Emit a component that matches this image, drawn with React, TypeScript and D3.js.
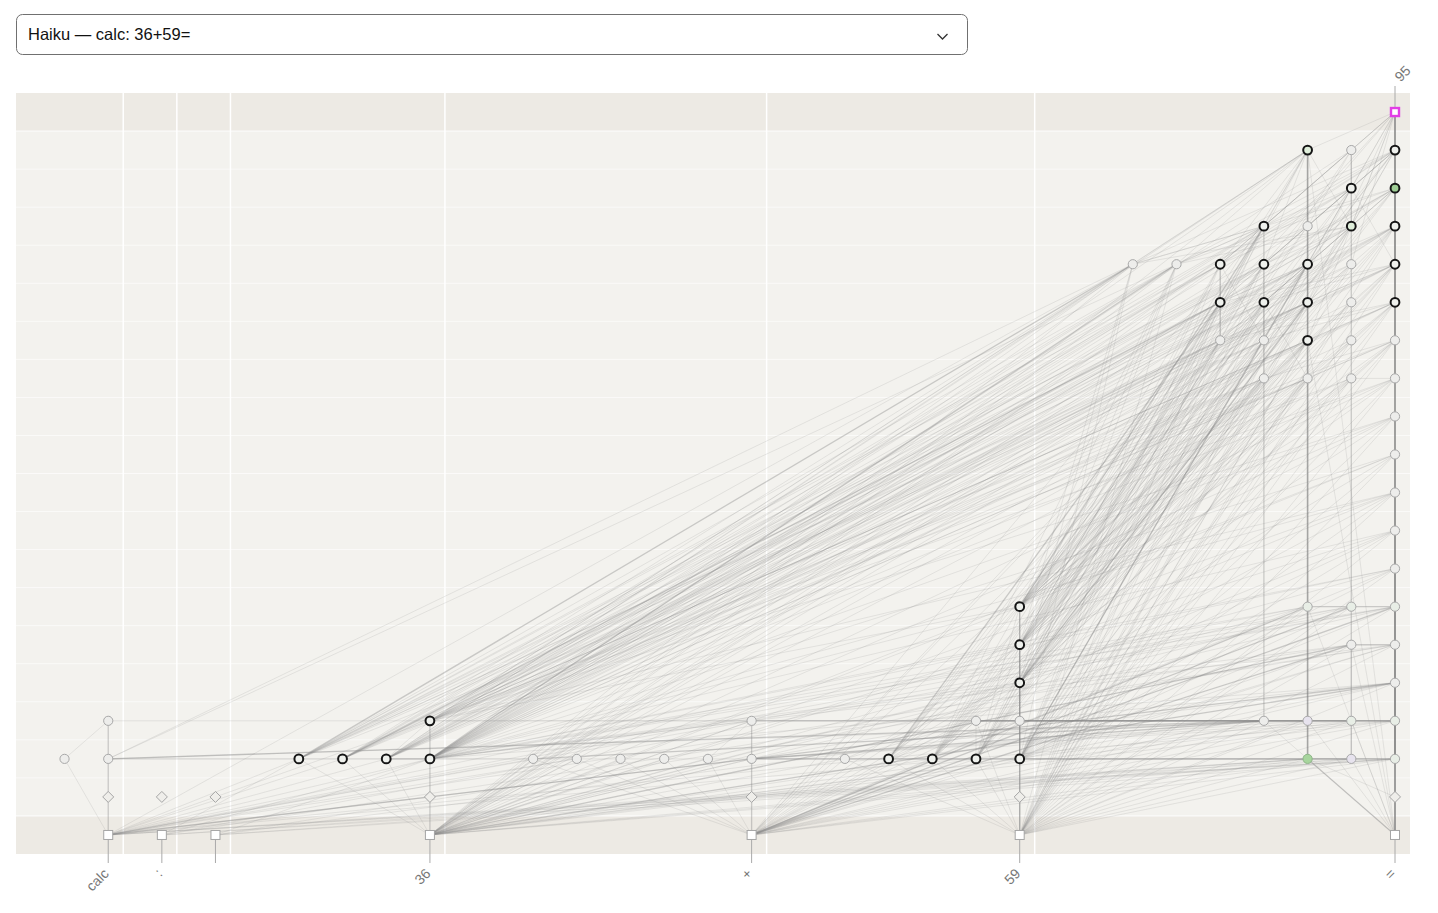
import { useRef, useEffect } from 'react'
import * as d3 from 'd3'

// prompt tokens along the bottom, predicted token on top
const tokens = ['calc', ':', ' ', '36', '+', '59', '=']
const outputToken = '95'
const promptLabel = 'Haiku \u2014 calc: 36+59='
const layerCount = 20

// [id, token index, offset inside column, layer, style]
type NodeRow = [string, number, number, number, string]
const nodes: NodeRow[] = [
  ['E0', 0, 0, 0, 'emb'], ['D0', 0, 0, 1, 'err'], ['A1', 0, 0, 2, 'light'], ['A2', 0, 1, 2, 'light'], ['A3', 0, 0, 3, 'light'],
  ['E1', 1, 0, 0, 'emb'], ['D1', 1, 0, 1, 'err'],
  ['E2', 2, 0, 0, 'emb'], ['D2', 2, 0, 1, 'err'],
  ['E3', 3, 0, 0, 'emb'], ['D3', 3, 0, 1, 'err'], ['B1', 3, 0, 2, 'bold'], ['B2', 3, 1, 2, 'bold'], ['B3', 3, 2, 2, 'bold'], ['B4', 3, 3, 2, 'bold'], ['B5', 3, 0, 3, 'bold'],
  ['E4', 4, 0, 0, 'emb'], ['D4', 4, 0, 1, 'err'], ['P1', 4, 0, 2, 'light'], ['P2', 4, 1, 2, 'light'], ['P3', 4, 2, 2, 'light'], ['P4', 4, 3, 2, 'light'], ['P5', 4, 4, 2, 'light'], ['P6', 4, 5, 2, 'light'], ['P7', 4, 0, 3, 'light'],
  ['E5', 5, 0, 0, 'emb'], ['D5', 5, 0, 1, 'err'], ['F1', 5, 0, 2, 'bold'], ['F2', 5, 1, 2, 'bold'], ['F3', 5, 2, 2, 'bold'], ['F4', 5, 3, 2, 'bold'], ['F5', 5, 4, 2, 'light'],
  ['F6', 5, 0, 3, 'light'], ['F7', 5, 1, 3, 'light'], ['F8', 5, 0, 4, 'bold'], ['F9', 5, 0, 5, 'bold'], ['F10', 5, 0, 6, 'bold'],
  ['E6', 6, 0, 0, 'emb'], ['D6', 6, 0, 1, 'err'],
  ['Q2', 6, 0, 2, 'tint'], ['Q3', 6, 0, 3, 'tint'], ['Q4', 6, 0, 4, 'light'], ['Q5', 6, 0, 5, 'light'], ['Q6', 6, 0, 6, 'tint'], ['Q7', 6, 0, 7, 'light'],
  ['Q8', 6, 0, 8, 'light'], ['Q9', 6, 0, 9, 'light'], ['Q10', 6, 0, 10, 'light'], ['Q11', 6, 0, 11, 'light'], ['Q12', 6, 0, 12, 'light'], ['Q13', 6, 0, 13, 'light'],
  ['Q14', 6, 0, 14, 'bold'], ['Q15', 6, 0, 15, 'bold'], ['Q16', 6, 0, 16, 'bold'], ['Q17', 6, 0, 17, 'boldGreen'], ['Q18', 6, 0, 18, 'bold'], ['L', 6, 0, 19, 'logit'],
  ['R2', 6, 1, 2, 'lav'], ['R3', 6, 1, 3, 'tint'], ['R5', 6, 1, 5, 'light'], ['R6', 6, 1, 6, 'tint'], ['R12', 6, 1, 12, 'light'], ['R13', 6, 1, 13, 'light'],
  ['R14', 6, 1, 14, 'light'], ['R15', 6, 1, 15, 'light'], ['R16', 6, 1, 16, 'boldTint'], ['R17', 6, 1, 17, 'bold'], ['R18', 6, 1, 18, 'light'],
  ['S2', 6, 2, 2, 'green'], ['S3', 6, 2, 3, 'lav'], ['S6', 6, 2, 6, 'tint'], ['S12', 6, 2, 12, 'light'], ['S13', 6, 2, 13, 'bold'],
  ['S14', 6, 2, 14, 'bold'], ['S15', 6, 2, 15, 'bold'], ['S16', 6, 2, 16, 'light'], ['S18', 6, 2, 18, 'boldTint'],
  ['T3', 6, 3, 3, 'light'], ['T12', 6, 3, 12, 'light'], ['T13', 6, 3, 13, 'light'], ['T14', 6, 3, 14, 'bold'], ['T15', 6, 3, 15, 'bold'], ['T16', 6, 3, 16, 'bold'],
  ['U13', 6, 4, 13, 'light'], ['U14', 6, 4, 14, 'bold'], ['U15', 6, 4, 15, 'bold'],
  ['V15', 6, 5, 15, 'light'], ['W15', 6, 6, 15, 'light'],
]

// heavy paths: consecutive ids are linked
const strongChains = [
  'Q2 Q3 Q4 Q5 Q6 Q7 Q8 Q9 Q10 Q11 Q12 Q13 Q14 Q15 Q16 Q17 Q18 L',
  'S2 S3 S6 S12 S13 S14 S15 S16 S18',
]
const mediumChains = [
  'E6 D6 Q2',
  'R2 R3 R5 R6 R12 R13 R14 R15 R16 R17 R18',
  'E5 F1 F6 F8 F9 F10',
  'E3 B1 B5', 'E4 P1 P7', 'E0 A1 A3',
  'T3 T12 T13 T14 T15 T16', 'U13 U14 U15',
]
const mediumLinks = [
  'A1>T3', 'P1>T3', 'P6>T3', 'F7>T3', 'T3>S3', 'S3>R3', 'R3>Q3',
  'E3>R5', 'E4>R5', 'R5>Q5', 'E0>Q4', 'E3>Q4', 'E4>S6', 'E4>R6', 'S6>R6', 'R6>Q6', 'E4>Q6',
  'S2>R2', 'R2>Q2', 'B4>W15', 'B1>V15', 'B3>U14', 'F4>U14', 'F10>T16', 'F1>S15', 'F8>S14',
  'B2>B1', 'E6>S2',
]
// target: sources
const faintLinks = [
  'L: Q17 Q16 Q15 Q14 R17 R16 R18 S18 S15 S14 S13 T16 T15 U15 U14 R15 Q13 Q12',
  'Q18: R17 S15 S14 T16 T15 U15 U14 V15 W15 S16 R16 F10 F9 B1 Q16 Q15',
  'Q17: R16 S15 T15 T14 U14 V15 W15 F10 F9 F8 B1 B5 E6 Q15 Q14',
  'Q16: S14 T14 U14 U13 F10 F9 F8 F1 B1 B2 B3 E3 E5 Q14',
  'R17: R16 S16 S15 T15 U15 V15 F10 F9 F1 B1 B4 E5 Q15',
  'S18: R16 T16 T15 U15 V15 W15 F10 F9 F8 B1 B2 B5 E3 E6',
  'R18: R16 S16 T16 U15 F9 B1',
  'R16: R15 S15 T15 T14 U14 W15 V15 F10 F9 F8 F2 B1 B4 E5',
  'S16: T15 U15 F10 F9 B1',
  'T16: U15 U14 V15 W15 F10 F9 F8 F1 F2 B1 B2 B3 E3 E4',
  'Q15: R14 S14 T14 U14 U13 F10 F9 F8 F1 F3 B1 B2 B5 E5 E6 Q13',
  'R15: R14 S14 T14 F10 F8 B1 E5',
  'S15: T14 U14 U13 T13 F10 F9 F8 F1 F2 F4 B1 B2 B3 B4 B5 E3 E5 S13',
  'T15: U14 U13 T13 F10 F9 F8 F3 F4 B1 B2 B3 B4 E3 E5',
  'U15: U13 T13 F10 F9 F1 F2 B1 B2 B3 B4 B5 E3',
  'V15: F10 F9 F8 F3 B1 B2 B3 B4 B5 E3 E5 A1',
  'W15: F9 F8 F1 B1 B2 B3 B5 E3 A1 E0',
  'Q14: R13 S13 T13 U13 F10 F9 F8 F1 B1 B2 B5 E5 E6 Q12',
  'R14: R13 S13 F10 F9 B1 E5',
  'S14: T13 U13 T12 F10 F9 F1 F2 F3 B1 B2 B3 B4 B5 E3 E5',
  'T14: U13 T12 S12 F10 F9 F8 F1 F2 F3 F4 B1 B2 B3 B4 E3 E4 E5',
  'U14: F10 F9 F8 F1 F2 F3 B1 B2 B4 B5 E3 E5',
  'Q13: R12 S12 T12 F10 F9 F8 F1 B1 B5 E5 E6',
  'R13: R12 S12 F10 F8 B1 E5',
  'S13: T12 F10 F9 F8 F1 F2 F3 F4 B1 B2 B3 B5 E3 E5 E6',
  'T13: F10 F9 F8 F1 F2 F3 B1 B2 B3 B4 E3 E4',
  'U13: F10 F9 F8 F1 F2 F3 F4 B1 B2 B3 B4 B5 E3 E4 E5',
  'Q12: R12 F10 F9 F1 B1 B5 E3 E5 E6',
  'R12: F10 F9 F8 F1 B1 B5 E5',
  'S12: F10 F9 F8 F1 F2 F3 B1 B2 B5 E3 E5',
  'T12: F10 F9 F8 F1 F2 F3 F4 B1 B2 B3 B4 E3 E4 E5',
  'Q11: F10 F1 B1 B5 E3 E4 E5 E6',
  'Q10: F10 F1 B1 E3 E4 E5 E6',
  'Q9: F9 F1 B1 B5 E3 E4 E5 E6',
  'Q8: F8 F1 B1 E3 E4 E5 E6',
  'Q7: F1 B1 E3 E4 E5 E6 E0',
  'Q6: F1 B1 E3 E5 E6 E0 E1',
  'R6: F1 B1 E3 E5 E0',
  'S6: F1 B1 E3 E5 E6 E0',
  'Q5: F1 B1 E4 E5 E6 E1 E2',
  'R5: R2 F1 B1 E5 E6 E0',
  'Q4: F1 F6 B1 E4 E5 E6 E2',
  'Q3: S3 T3 F6 F7 P7 P1 B5 A3 E3 E4 E5 E6 E0',
  'R3: R2 T3 F6 F7 P1 E3 E4 E5 E6',
  'S3: F6 F7 P7 P1 A1 E3 E4 E5 E6',
  'T3: F6 P7 E4 E5 E6 E0',
  'Q2: A1 F1 P1 E3 E4 E5 E0 E1 E2',
  'R2: E6 F1 P1 E4 E5 E3 E0',
  'S2: D6 F1 P1 E3 E4 E5 E0 E1 E2',
  'F10: F6 F1 F2 F3 F4 B1 B5 E5 E3',
  'F9: F6 F1 F2 F3 F4 B1 E5 E3 E4',
  'F8: F1 F2 F3 F4 F5 B1 E5 E3',
  'F6: F7 F2 F3 F4 E5 E4',
  'F7: F2 F3 F4 F5 E5 E4 P1',
  'F1: E4 E3 P1',
  'F2: E5 E4 E3', 'F3: E5 E4 E3', 'F4: E5 E4', 'F5: E5 E4 E3',
  'P7: P2 E3 B1',
  'P1: E3 E0', 'P2: E4 E3', 'P3: E4 E3', 'P4: E4 E3', 'P5: E4 E3 E0', 'P6: E4 E3 A1 E0',
  'B5: B2 E0', 'B1: E1 E2 E0', 'B2: E3 E0', 'B3: E3 E0', 'B4: E3 E0 E1',
  'A3: A2', 'A2: E0',
]

const nodeFill: Record<string, string> = {
  light: '#ededeb', tint: '#e8eee6', lav: '#e7e3ee', bold: '#eff1ed', boldTint: '#dfeeda',
  green: '#a7d59d', boldGreen: '#9fce95', emb: '#ffffff', err: '#efeeea', logit: '#ffffff',
}

export default function App() {
  const svgRef = useRef<SVGSVGElement>(null)

  useEffect(() => {
    if (!svgRef.current) return
    const svg = d3.select(svgRef.current)
    svg.selectAll('*').remove()

    const width = 1438
    const height = 913
    const plot = { left: 16, right: 1410, top: 93, bottom: 854 }
    svg.attr('width', width).attr('height', height).attr('viewBox', `0 0 ${width} ${height}`)

    // column widths follow the number of node slots in each token column
    const slots = tokens.map((_, i) => (d3.max(nodes.filter(n => n[1] === i), n => n[2]) ?? 0) + 1)
    const cum = [0, ...d3.cumsum(slots)]
    const x = d3.scaleLinear().domain([0, cum[cum.length - 1]]).range([plot.left, plot.right])
    const y = d3.scaleBand<number>().domain(d3.range(layerCount)).range([plot.bottom, plot.top])
    const bw = y.bandwidth()
    const rowY = (l: number) => (y(l) ?? 0) + bw / 2
    const tokenX = (i: number) => x(cum[i + 1]) - 15
    const step = 43.7

    const pos = new Map<string, { x: number; y: number; style: string }>()
    nodes.forEach(([id, c, k, l, style]) => pos.set(id, { x: tokenX(c) - k * step, y: rowY(l), style }))

    // background rows
    svg.append('g').selectAll('rect')
      .data(d3.range(layerCount))
      .join('rect')
      .attr('x', plot.left).attr('width', plot.right - plot.left)
      .attr('y', d => y(d) ?? 0).attr('height', bw)
      .attr('fill', d => (d === 0 || d === layerCount - 1) ? '#edeae4' : '#f3f2ee')

    svg.append('g').selectAll('line')
      .data(d3.range(1, layerCount))
      .join('line')
      .attr('x1', plot.left).attr('x2', plot.right)
      .attr('y1', d => (y(d) ?? 0) + bw).attr('y2', d => (y(d) ?? 0) + bw)
      .attr('stroke', '#fff').attr('stroke-opacity', d => (d === 1 || d === layerCount - 1) ? 0.9 : 0.5)
      .attr('stroke-width', 1)

    svg.append('g').selectAll('line')
      .data(cum.slice(1, -1))
      .join('line')
      .attr('x1', d => x(d)).attr('x2', d => x(d))
      .attr('y1', plot.top).attr('y2', plot.bottom)
      .attr('stroke', '#fff').attr('stroke-width', 1.5)

    // edges
    const tier = new Map<string, number>()
    const add = (s: string, t: string, w: number) => {
      const key = `${s}>${t}`
      if ((tier.get(key) ?? 0) < w) tier.set(key, w)
    }
    faintLinks.forEach(line => {
      const [t, rest] = line.split(':')
      rest.trim().split(/\s+/).forEach(s => add(s, t.trim(), 1))
    })
    mediumLinks.forEach(l => { const [s, t] = l.split('>'); add(s, t, 2) })
    mediumChains.forEach(c => { const ids = c.split(' '); d3.pairs(ids).forEach(([s, t]) => add(s, t, 2)) })
    strongChains.forEach(c => { const ids = c.split(' '); d3.pairs(ids).forEach(([s, t]) => add(s, t, 3)) })

    const edges = Array.from(tier.entries())
      .map(([key, w]) => { const [s, t] = key.split('>'); return { s: pos.get(s)!, t: pos.get(t)!, w } })
      .filter(e => e.s && e.t)
      .sort((a, b) => a.w - b.w)

    const edgeStyle: Record<number, [string, number, number]> = {
      1: ['#8f8f8f', 0.18, 1],
      2: ['#8a8a8a', 0.4, 1.3],
      3: ['#7c7c7c', 0.66, 1.6],
    }
    svg.append('g').selectAll('line')
      .data(edges)
      .join('line')
      .attr('x1', d => d.s.x).attr('y1', d => d.s.y)
      .attr('x2', d => d.t.x).attr('y2', d => d.t.y)
      .attr('stroke', d => edgeStyle[d.w][0])
      .attr('stroke-opacity', d => edgeStyle[d.w][1])
      .attr('stroke-width', d => edgeStyle[d.w][2])

    // ticks
    svg.append('g').selectAll('line')
      .data(tokens)
      .join('line')
      .attr('x1', (_, i) => tokenX(i)).attr('x2', (_, i) => tokenX(i))
      .attr('y1', rowY(0)).attr('y2', plot.bottom + 9)
      .attr('stroke', '#aaa').attr('stroke-width', 1)

    const last = tokens.length - 1
    svg.append('line')
      .attr('x1', tokenX(last)).attr('x2', tokenX(last))
      .attr('y1', rowY(layerCount - 1)).attr('y2', plot.top - 7)
      .attr('stroke', '#aaa').attr('stroke-width', 1)

    // nodes
    const ng = svg.append('g')
    pos.forEach(p => {
      const fill = nodeFill[p.style]
      if (p.style === 'emb') {
        ng.append('rect').attr('x', p.x - 4.5).attr('y', p.y - 4.5).attr('width', 9).attr('height', 9)
          .attr('fill', fill).attr('stroke', '#a5a5a5').attr('stroke-width', 1)
      } else if (p.style === 'logit') {
        ng.append('rect').attr('x', p.x - 4).attr('y', p.y - 4).attr('width', 8).attr('height', 8)
          .attr('fill', fill).attr('stroke', '#e23ee6').attr('stroke-width', 2.4)
      } else if (p.style === 'err') {
        ng.append('path').attr('d', `M${p.x},${p.y - 5.5}L${p.x + 5.5},${p.y}L${p.x},${p.y + 5.5}L${p.x - 5.5},${p.y}Z`)
          .attr('fill', fill).attr('stroke', '#a5a5a5').attr('stroke-width', 1)
      } else {
        const heavy = p.style.startsWith('bold')
        ng.append('circle').attr('cx', p.x).attr('cy', p.y).attr('r', heavy ? 4.4 : 4.6)
          .attr('fill', fill)
          .attr('stroke', heavy ? '#151515' : p.style === 'green' ? '#8fb589' : '#a8a8a8')
          .attr('stroke-width', heavy ? 2 : 1)
      }
    })

    // labels
    const font = 'Liberation Sans, Arial, Helvetica, sans-serif'
    svg.append('g').selectAll('text')
      .data(tokens)
      .join('text')
      .attr('transform', (_, i) => `translate(${tokenX(i) - 2},${plot.bottom + 17}) rotate(-45)`)
      .attr('text-anchor', 'end')
      .attr('dy', '0.35em')
      .style('font-family', font).style('font-size', '14px').style('fill', '#777')
      .text(d => d)

    svg.append('text')
      .attr('transform', `translate(${tokenX(last) + 2},${plot.top - 14}) rotate(-45)`)
      .attr('text-anchor', 'start')
      .attr('dy', '0.35em')
      .style('font-family', font).style('font-size', '14px').style('fill', '#777')
      .text(outputToken)

    // prompt selector
    svg.append('rect')
      .attr('x', 16.5).attr('y', 14.5).attr('width', 951).attr('height', 40).attr('rx', 6)
      .attr('fill', '#fff').attr('stroke', '#707070').attr('stroke-width', 1)
    svg.append('text')
      .attr('x', 28).attr('y', 40)
      .style('font-family', font).style('font-size', '16.5px').style('fill', '#111')
      .text(promptLabel)
    svg.append('path')
      .attr('d', 'M937.5,34 L942.5,39 L947.5,34')
      .attr('fill', 'none').attr('stroke', '#333').attr('stroke-width', 1.3)
  }, [])

  return <svg ref={svgRef} style={{ position: 'absolute', left: 0, top: 0, display: 'block' }} />
}
